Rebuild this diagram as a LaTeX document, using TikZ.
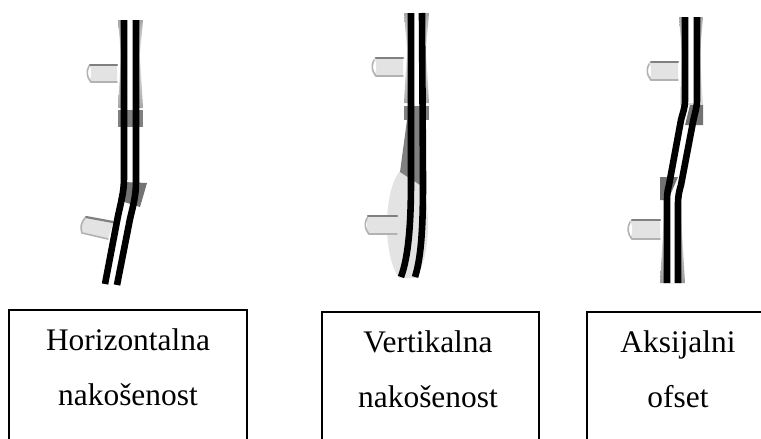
\documentclass[tikz,border=0pt]{standalone}
\usepackage{fontspec}
\setmainfont{Liberation Serif}
\begin{document}
\begin{tikzpicture}[x=1pt,y=-1pt,
  beltline/.style={line width=6.6pt,black,line join=round},
  gapline/.style={line width=6pt,white},
  stub/.style={fill=black!11,draw=none},
  stubedge/.style={line width=2.2pt,black!50,line cap=round},
  stubedgelight/.style={line width=1.6pt,black!30,line cap=round},
  flare/.style={draw=none},
  boxline/.style={line width=1.2pt,black},
  lab/.style={font=\fontsize{31.4}{36}\selectfont,inner sep=0pt,anchor=base}]
\useasboundingbox (0,0) rectangle (761,439);
\fill[white] (0,0) rectangle (761,439);

% ---------- Horizontal ----------
\fill[stub] (89,64) -- (117,64) -- (117,82) -- (89,82) to[bend right=25] cycle;
\draw[stubedge] (90,65) -- (117,65);
\draw[stubedgelight] (117,82) -- (91,82) to[bend left=35] (89,66);
\shade[flare,top color=black!35,bottom color=black!5] (118,20) -- (143,20) -- (140,55) -- (121,55) -- cycle;
\shade[flare,top color=black!5,bottom color=black!35] (121,55) -- (140,55) -- (143,108) -- (118,108) -- cycle;
\draw[gapline] (130,20) -- (130,112);
\fill[black!50] (118,110) rectangle (143,127);
\fill[black!55] (123,182) -- (147,183) -- (140,207) -- (118,200) -- cycle;
\fill[stub] (85,217) -- (113,223) -- (108,239) -- (81,233) to[bend left=20] cycle;
\draw[stubedge] (86,217) -- (113,222);
\draw[stubedgelight] (108,239) -- (82,233) to[bend left=30] (85,218);
\draw[beltline] (124,20) -- (124,178) .. controls (124,192) and (121,202) .. (118,216) -- (105,284);
\draw[beltline] (136,20) -- (136,182) .. controls (136,196) and (133,206) .. (130,219) -- (117,285);

% ---------- Vertical ----------
\begin{scope}
\clip (380,178) -- (399,171) -- (430,171) -- (430,278) -- (380,278) -- cycle;
\fill[black!11] (407.5,225) ellipse [x radius=20.5,y radius=58];
\end{scope}
\fill[stub] (374,57) -- (403,57) -- (403,76) -- (374,76) to[bend right=25] cycle;
\draw[stubedge] (376,58) -- (403,58);
\draw[stubedgelight] (403,76) -- (376,76) to[bend left=35] (374,60);
\fill[stub] (367,216) rectangle (397,234);
\draw[stubedge] (368,216) -- (397,216);
\draw[stubedgelight] (397,234) -- (369,234) to[bend left=35] (367,218);
\shade[flare,top color=black!35,bottom color=black!5] (404,13) -- (429,13) -- (426,50) -- (407,50) -- cycle;
\shade[flare,top color=black!5,bottom color=black!35] (407,50) -- (426,50) -- (429,103) -- (404,103) -- cycle;
\draw[gapline] (416.5,13) -- (416.5,105);
\fill[black!50] (404,106) rectangle (429,120);
\fill[black!50] (407,120) -- (420,120) -- (420,185) -- (400,172) -- cycle;
\draw[beltline] (411,13) -- (411,180) .. controls (411,220) and (409,255) .. (401,277);
\draw[beltline] (422,13) -- (423,180) .. controls (423,220) and (422,255) .. (415,277);

% ---------- Axial ----------
\fill[stub] (649,62) -- (678,62) -- (678,80) -- (649,80) to[bend right=25] cycle;
\draw[stubedge] (651,62) -- (678,62);
\draw[stubedgelight] (678,80) -- (651,80) to[bend left=35] (649,64);
\fill[stub] (630,220) -- (660,220) -- (660,239) -- (630,239) to[bend right=25] cycle;
\draw[stubedge] (632,220) -- (660,220);
\draw[stubedgelight] (660,239) -- (632,239) to[bend left=35] (630,222);
\shade[flare,top color=black!35,bottom color=black!5] (679,17) -- (703,17) -- (700,55) -- (682,55) -- cycle;
\shade[flare,top color=black!5,bottom color=black!15] (682,55) -- (700,55) -- (703,105) -- (680,105) -- cycle;
\draw[gapline] (691,17) -- (691,103);
\fill[black!55] (690,105) -- (703,105) -- (703,125) -- (685,125) -- cycle;
\fill[black!55] (660,177) -- (678,177) -- (668,200) -- (660,200) -- cycle;
\shade[flare,top color=black!5,bottom color=black!40] (664,215) -- (681,215) -- (685,283) -- (660,283) -- cycle;
\draw[gapline] (672.5,200) -- (672.5,283);
\draw[beltline] (685,17) -- (685,100) .. controls (685,108) and (683,112) .. (681,120) -- (669,185) .. controls (667,192) and (667,196) .. (667,205) -- (667,283);
\draw[beltline] (697,17) -- (697,100) .. controls (697,108) and (695,112) .. (693,122) -- (681,185) .. controls (679,192) and (678,196) .. (678,205) -- (678,283);

% ---------- Label boxes ----------
\draw[boxline] (9,439) -- (9,310) -- (247,310) -- (247,439);
\draw[boxline] (322,439) -- (322,312) -- (539,312) -- (539,439);
\draw[boxline] (587,439) -- (587,312) -- (761,312);

\node[lab] (h1) at (128,350) {Horizontalna};
\node[lab] (h2) at (128,405) {nakošenost};
\node[lab] (v1) at (428,352) {Vertikalna};
\node[lab] (v2) at (428,407) {nakošenost};
\node[lab] (a1) at (678,352) {Aksijalni};
\node[lab] (a2) at (678,407) {ofset};
\end{tikzpicture}
\end{document}
